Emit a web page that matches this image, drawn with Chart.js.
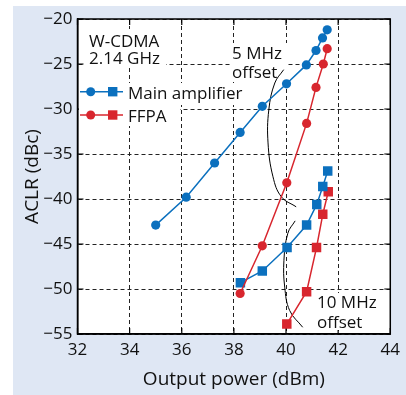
<!DOCTYPE html>
<html><head><meta charset="utf-8">
<script src="https://cdn.jsdelivr.net/npm/chart.js@4"></script>
<style>html,body{margin:0;padding:0;background:#fff}#wrap{width:406px;height:395px;position:relative}</style>
</head><body><div id="wrap"><canvas id="c"></canvas></div>
<script>
// Tick values
const xTicks = [32, 34, 36, 38, 40, 42, 44];
const yTicks = [-55, -50, -45, -40, -35, -30, -25, -20];
// Main amplifier, 5 MHz offset (circles)
const mainX5 = [35.0, 36.17, 37.26, 38.24, 39.09, 40.02, 40.78, 41.15, 41.40, 41.58];
const mainY5 = [-42.9, -39.8, -36.0, -32.6, -29.7, -27.2, -25.1, -23.5, -22.1, -21.2];
// FFPA, 5 MHz offset (circles)
const ffpaX5 = [38.24, 39.09, 40.03, 40.79, 41.15, 41.43, 41.58];
const ffpaY5 = [-50.5, -45.2, -38.2, -31.6, -27.6, -25.0, -23.3];
// Main amplifier, 10 MHz offset (squares)
const mainX10 = [38.25, 39.09, 40.04, 40.79, 41.18, 41.41, 41.60];
const mainY10 = [-49.3, -48.0, -45.4, -42.9, -40.6, -38.6, -36.9];
// FFPA, 10 MHz offset (squares)
const ffpaX10 = [40.03, 40.79, 41.17, 41.41, 41.62];
const ffpaY10 = [-53.9, -50.3, -45.4, -41.7, -39.2];
// Annotation brackets (data units)
const curve5X = [39.91, 39.57, 39.34, 39.31, 39.50, 39.82, 40.39];
const curve5Y = [-25.63, -27.11, -30.09, -33.77, -37.53, -39.75, -40.87];
const curve10X = [40.35, 40.07, 39.92, 39.95, 40.14, 40.64];
const curve10Y = [-42.43, -43.80, -46.81, -49.79, -52.39, -54.25];
const seriesNames = ['Main amplifier', 'FFPA'];

const BLUE = '#0b70be', RED = '#d8262e';
const FONT = '"Open Sans", "DejaVu Sans", sans-serif';
Chart.defaults.font.family = FONT;
Chart.defaults.color = '#111';

function pts(xs, ys) { return xs.map((x, i) => ({ x: x, y: ys[i] })); }
function series(label, xs, ys, color, style, r) {
  return { label, data: pts(xs, ys), borderColor: color, backgroundColor: color, borderWidth: 1.5,
    pointStyle: style, pointRadius: r, pointHoverRadius: r, pointBorderWidth: 0, showLine: true, tension: 0 };
}
function curve(xs, ys) {
  return { label: '', data: pts(xs, ys), borderColor: '#000', borderWidth: 1, pointRadius: 0,
    showLine: true, tension: 0.4, fill: false };
}

const deco = {
  id: 'deco',
  beforeDraw(chart) {
    const { ctx, chartArea: a } = chart;
    ctx.save();
    ctx.fillStyle = '#dfe7f4';
    ctx.fillRect(13, 6, chart.width - 13, chart.height - 6);
    ctx.fillStyle = '#fff';
    ctx.fillRect(a.left, a.top, a.right - a.left, a.bottom - a.top);
    ctx.restore();
  },
  beforeDatasetsDraw(chart) {
    const { ctx, chartArea: a, scales } = chart;
    ctx.save();
    // inward solid tick marks
    ctx.strokeStyle = '#000'; ctx.lineWidth = 1.2;
    ctx.beginPath();
    xTicks.forEach(v => {
      const x = scales.x.getPixelForValue(v);
      ctx.moveTo(x, a.top); ctx.lineTo(x, a.top + 6);
      ctx.moveTo(x, a.bottom); ctx.lineTo(x, a.bottom - 6);
    });
    yTicks.forEach(v => {
      const y = scales.y.getPixelForValue(v);
      ctx.moveTo(a.left, y); ctx.lineTo(a.left + 6, y);
      ctx.moveTo(a.right, y); ctx.lineTo(a.right - 6, y);
    });
    ctx.stroke();
    // white boxes behind annotation text
    ctx.fillStyle = '#fff';
    ctx.fillRect(84, 29, 82, 39);     // W-CDMA / 2.14 GHz
    ctx.fillRect(79, 83, 169, 22);    // Main amplifier row
    ctx.fillRect(79, 105, 101, 21);   // FFPA row
    ctx.fillRect(230, 43, 57, 39);    // 5 MHz offset
    ctx.fillRect(315, 293, 64, 37);   // 10 MHz offset
    // text annotations
    ctx.fillStyle = '#111';
    ctx.font = '17px ' + FONT;
    ctx.textBaseline = 'alphabetic';
    ctx.textAlign = 'left';
    ctx.fillText('W-CDMA', 89, 47);
    ctx.fillText('2.14 GHz', 89, 64);
    ctx.fillText('5 MHz', 232, 59);
    ctx.fillText('offset', 232, 78);
    ctx.fillText('10 MHz', 317, 308);
    ctx.fillText('offset', 317, 328);
    // legend
    const items = [[seriesNames[0], BLUE, 91.7, 99], [seriesNames[1], RED, 115, 122]];
    items.forEach(([name, col, y, by]) => {
      ctx.strokeStyle = col; ctx.fillStyle = col; ctx.lineWidth = 1.5;
      ctx.beginPath(); ctx.moveTo(80, y); ctx.lineTo(123, y); ctx.stroke();
      ctx.beginPath(); ctx.arc(90.7, y, 4.5, 0, Math.PI * 2); ctx.fill();
      ctx.fillRect(112.7 - 4.7, y - 4.7, 9.4, 9.4);
      ctx.fillStyle = '#111';
      ctx.fillText(name, 128, by);
    });
    ctx.restore();
  },
  afterDraw(chart) {
    const { ctx, chartArea: a } = chart;
    ctx.save();
    ctx.strokeStyle = '#000';
    ctx.lineWidth = 1.5;
    ctx.strokeRect(a.left, a.top, a.right - a.left, a.bottom - a.top);
    ctx.restore();
  }
};

new Chart(document.getElementById('c'), {
  type: 'scatter',
  data: {
    datasets: [
      series('Main amplifier (5 MHz)', mainX5, mainY5, BLUE, 'circle', 4.6),
      series('FFPA (5 MHz)', ffpaX5, ffpaY5, RED, 'circle', 4.6),
      series('Main amplifier (10 MHz)', mainX10, mainY10, BLUE, 'rect', 6.7),
      series('FFPA (10 MHz)', ffpaX10, ffpaY10, RED, 'rect', 6.7),
      curve(curve5X, curve5Y),
      curve(curve10X, curve10Y)
    ]
  },
  options: {
    responsive: true, maintainAspectRatio: false, animation: false,
    layout: { padding: { left: 13, top: 19, right: 12.5, bottom: 0 } },
    plugins: { legend: { display: false }, tooltip: { enabled: false } },
    scales: {
      x: {
        type: 'linear', min: 32, max: 44,
        afterBuildTicks(s) { s.ticks = xTicks.map(v => ({ value: v })); },
        afterFit(s) { s.height = 61; },
        ticks: { font: { size: 17 }, color: '#111', padding: 6 },
        grid: { color: '#222', lineWidth: 1, drawTicks: false },
        border: { display: true, color: '#000', width: 1.5, dash: [4, 3] },
        title: { display: true, text: 'Output power (dBm)', font: { size: 19, lineHeight: 1.2 }, color: '#111', padding: { top: 0, bottom: 4 } }
      },
      y: {
        type: 'linear', min: -55, max: -20,
        afterBuildTicks(s) { s.ticks = yTicks.map(v => ({ value: v })); },
        afterFit(s) { s.width = 64.5; },
        ticks: { font: { size: 17 }, color: '#111', padding: 5, callback: v => String(v).replace('-', '\u2212') },
        grid: { color: '#222', lineWidth: 1, drawTicks: false },
        border: { display: true, color: '#000', width: 1.5, dash: [4, 3] },
        title: { display: true, text: 'ACLR (dBc)', font: { size: 19, lineHeight: 1.2 }, color: '#111', padding: { top: 8, bottom: 0 } }
      }
    }
  },
  plugins: [deco]
});
</script></body></html>
